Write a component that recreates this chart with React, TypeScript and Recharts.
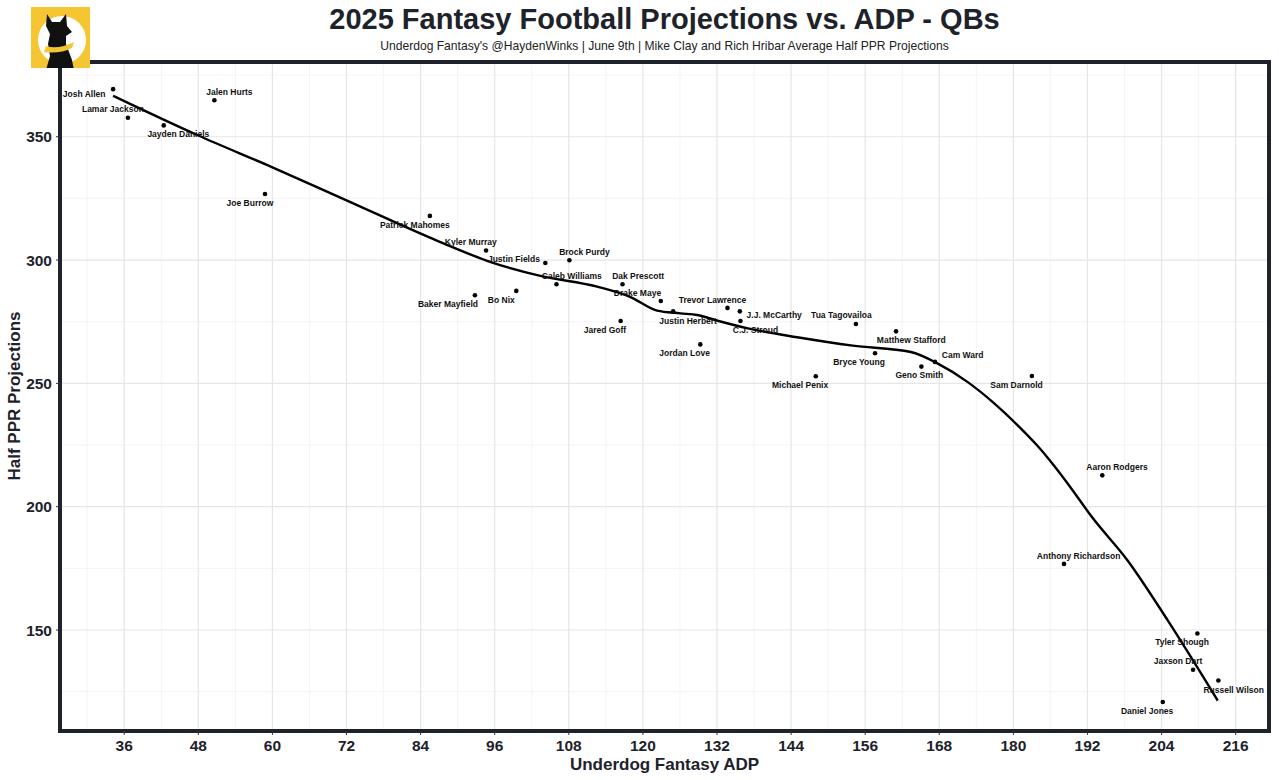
import React from "react";
import {
  ComposedChart,
  Scatter,
  Line,
  XAxis,
  YAxis,
  CartesianGrid,
  ReferenceArea,
} from "recharts";

// quarterbacks: name, Underdog ADP, average half PPR projection
const names = [
  "Josh Allen", "Lamar Jackson", "Jayden Daniels", "Jalen Hurts", "Joe Burrow",
  "Patrick Mahomes", "Kyler Murray", "Baker Mayfield", "Bo Nix", "Justin Fields",
  "Caleb Williams", "Brock Purdy", "Dak Prescott", "Jared Goff", "Drake Maye",
  "Justin Herbert", "Jordan Love", "Trevor Lawrence", "J.J. McCarthy", "C.J. Stroud",
  "Michael Penix", "Tua Tagovailoa", "Bryce Young", "Matthew Stafford", "Geno Smith",
  "Cam Ward", "Sam Darnold", "Anthony Richardson", "Aaron Rodgers", "Daniel Jones",
  "Jaxson Dart", "Tyler Shough", "Russell Wilson",
];
const adpValues = [
  34.2, 36.6, 42.4, 50.6, 58.8,
  85.5, 94.6, 92.8, 99.5, 104.2,
  106.0, 108.1, 116.7, 116.4, 122.9,
  124.9, 129.3, 133.7, 135.7, 135.8,
  148.0, 154.5, 157.6, 161.0, 165.1,
  167.3, 183.0, 188.2, 194.4, 204.2,
  209.1, 209.8, 213.2,
];
const projValues = [
  369.3, 357.7, 354.6, 364.8, 326.8,
  317.9, 303.9, 285.7, 287.5, 298.8,
  290.2, 299.9, 290.2, 275.3, 283.4,
  279.2, 265.8, 280.6, 279.2, 275.3,
  252.9, 274.1, 262.2, 271.1, 256.8,
  258.7, 253.0, 176.8, 212.7, 120.8,
  133.9, 148.6, 129.5,
];

// smoothed trend
const trendAdp = [
  34.2, 48, 60, 72, 87, 95, 103.4, 112.6, 118, 122.3, 126.1, 128.8, 132.1, 137,
  145, 154, 163.4, 167.7, 172.5, 176.9, 180.7, 183.9, 186.5, 189.5, 192.6, 198.5, 205, 213.1,
];
const trendProj = [
  366.6, 350.5, 337.6, 324.2, 307.5, 299.5, 293.6, 289.2, 285, 279.5, 278.4, 277.7, 275.4, 272.3,
  268.7, 265.3, 262.7, 258.1, 250.7, 241.9, 233.0, 224.7, 216.9, 207, 196.2, 178.2, 153.9, 121.4,
];

const xTicks = [36, 48, 60, 72, 84, 96, 108, 120, 132, 144, 156, 168, 180, 192, 204, 216];
const xMinor = [30, 42, 54, 66, 78, 90, 102, 114, 126, 138, 150, 162, 174, 186, 198, 210];
const yTicks = [150, 200, 250, 300, 350];
const yMinor = [125, 175, 225, 275, 325, 375];

// where each name sits relative to its dot (px)
const labelOffset: Record<string, [number, number]> = {
  "Josh Allen": [-29, 4.7],
  "Lamar Jackson": [-15, -8.4],
  "Jayden Daniels": [14.6, 8.7],
  "Jalen Hurts": [15, -8],
  "Joe Burrow": [-15, 9],
  "Patrick Mahomes": [-15, 9],
  "Kyler Murray": [-15.3, -8],
  "Baker Mayfield": [-27, 9],
  "Bo Nix": [-15, 9],
  "Justin Fields": [-31.4, -4],
  "Caleb Williams": [15.3, -8],
  "Brock Purdy": [15, -8],
  "Dak Prescott": [15.6, -8],
  "Jared Goff": [-15.7, 9],
  "Drake Maye": [-23.3, -7.7],
  "Justin Herbert": [15, 9.4],
  "Jordan Love": [-15.7, 9],
  "Trevor Lawrence": [-15, -8],
  "J.J. McCarthy": [34.4, 3.7],
  "C.J. Stroud": [15, 9],
  "Michael Penix": [-15.7, 9],
  "Tua Tagovailoa": [-14.5, -8.5],
  "Bryce Young": [-16, 9],
  "Matthew Stafford": [15.3, 9],
  "Geno Smith": [-2, 8.7],
  "Cam Ward": [27.7, -7],
  "Sam Darnold": [-15.4, 8.7],
  "Anthony Richardson": [14.6, -8],
  "Aaron Rodgers": [14.7, -8],
  "Daniel Jones": [-15.7, 9],
  "Jaxson Dart": [-15, -8.3],
  "Tyler Shough": [-15.3, 9],
  "Russell Wilson": [15.3, 9],
};

const players = names.map((name, i) => ({ name, adp: adpValues[i], proj: projValues[i] }));
const trend = trendAdp.map((adp, i) => ({ adp, proj: trendProj[i] }));

const FONT = "'Liberation Sans', Arial, Helvetica, sans-serif";
const DARK = "#1d222b";

const PlayerDot = (props: any) => {
  const { cx, cy, payload } = props;
  if (cx == null || cy == null) return null;
  const off = labelOffset[payload.name] || [0, -8];
  return (
    <g>
      <circle cx={cx} cy={cy} r={2.3} fill="#000" />
      <text
        x={cx + off[0]}
        y={cy + off[1]}
        dy="0.35em"
        textAnchor="middle"
        fontFamily={FONT}
        fontWeight="bold"
        fontSize={8.5}
        fill="#111"
      >
        {payload.name}
      </text>
    </g>
  );
};

export default function App() {
  return (
    <div style={{ position: "absolute", left: 0, top: 0, width: 1279, height: 780, background: "#fff" }}>
      <ComposedChart
        width={1279}
        height={780}
        margin={{ top: 62, right: 10, bottom: 0, left: 0 }}
      >
        <CartesianGrid
          horizontalValues={yMinor}
          verticalValues={xMinor}
          stroke="#f1f1f1"
          strokeWidth={0.8}
        />
        <CartesianGrid
          horizontalValues={yTicks}
          verticalValues={xTicks}
          stroke="#e6e6e6"
          strokeWidth={1.2}
        />
        <XAxis
          type="number"
          dataKey="adp"
          domain={[25.6, 221.4]}
          allowDataOverflow
          ticks={xTicks}
          height={49}
          axisLine={false}
          tickSize={4}
          tickMargin={5}
          tickLine={{ stroke: "#333", strokeWidth: 1 }}
          tick={{ fill: DARK, fontSize: 15.5, fontWeight: "bold", fontFamily: FONT }}
        />
        <YAxis
          type="number"
          dataKey="proj"
          domain={[109.05, 380.3]}
          allowDataOverflow
          ticks={yTicks}
          width={60}
          axisLine={false}
          tickSize={4}
          tickMargin={4}
          tickLine={{ stroke: "#333", strokeWidth: 1 }}
          tick={{ fill: DARK, fontSize: 15.5, fontWeight: "bold", fontFamily: FONT }}
        />
        <Line
          data={trend}
          dataKey="proj"
          type="monotone"
          stroke="#000"
          strokeWidth={2.4}
          dot={false}
          activeDot={false}
          isAnimationActive={false}
        />
        <Scatter data={players} shape={<PlayerDot />} isAnimationActive={false} />
        <ReferenceArea
          x1={25.6}
          x2={221.4}
          y1={109.05}
          y2={380.3}
          fill="none"
          fillOpacity={0}
          stroke={DARK}
          strokeWidth={4}
          ifOverflow="visible"
        />
      </ComposedChart>
      <svg
        width={1279}
        height={780}
        style={{ position: "absolute", left: 0, top: 0, pointerEvents: "none" }}
      >
        <text x={664.5} y={28.5} textAnchor="middle" fontFamily={FONT} fontWeight="bold" fontSize={29} fill={DARK}>
          2025 Fantasy Football Projections vs. ADP - QBs
        </text>
        <text x={664.5} y={49.5} textAnchor="middle" fontFamily={FONT} fontSize={12.1} fill="#222">
          Underdog Fantasy's @HaydenWinks | June 9th | Mike Clay and Rich Hribar Average Half PPR Projections
        </text>
        <text x={664.5} y={770} textAnchor="middle" fontFamily={FONT} fontWeight="bold" fontSize={17} fill={DARK}>
          Underdog Fantasy ADP
        </text>
        <text
          x={20}
          y={396}
          transform="rotate(-90 20 396)"
          textAnchor="middle"
          fontFamily={FONT}
          fontWeight="bold"
          fontSize={17}
          fill={DARK}
        >
          Half PPR Projections
        </text>
        {/* logo */}
        <g>
          <rect x={31} y={7} width={59} height={61} fill="#f5c532" />
          <clipPath id="logoClip">
            <rect x={31} y={7} width={59} height={61} />
          </clipPath>
          <g clipPath="url(#logoClip)">
            <circle cx={62} cy={40} r={24} fill="#fff" />
            <path
              d="M47 14 L52 22 L60 22 L66 14 L67 26 L72 32 L66 36 L66 44 L72 60 L74 70 L46 70 L50 56 L48 44 L50 34 L46 26 Z"
              fill="#111"
            />
            <path d="M46 46 Q58 50 74 42 L72 48 Q60 54 44 52 Z" fill="#f5c532" />
          </g>
        </g>
      </svg>
    </div>
  );
}
